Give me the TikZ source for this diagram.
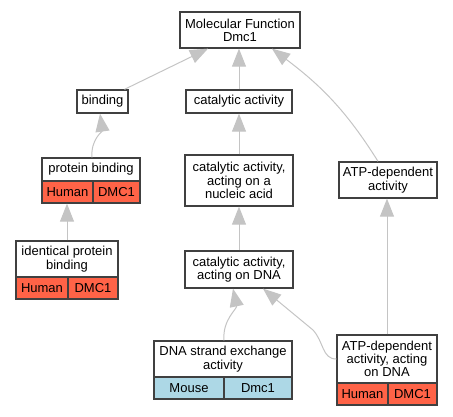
\documentclass[tikz,border=0pt]{standalone}
\usepackage{fontspec}
\setmainfont{Liberation Sans}
\usetikzlibrary{arrows.meta}
\definecolor{boxc}{RGB}{64,64,64}
\definecolor{edgec}{RGB}{196,196,196}
\definecolor{humanc}{RGB}{255,99,71}
\definecolor{mousec}{RGB}{173,216,230}
\tikzset{
  gbox/.style={draw=boxc, line width=1.3pt, fill=white, inner sep=0pt, align=center,
    font=\fontsize{13}{13.3}\selectfont},
  hcell/.style={gbox, fill=humanc},
  mcell/.style={gbox, fill=mousec},
  gedge/.style={draw=edgec, line width=1pt, -{Triangle[length=18pt,width=14pt]}}
}
\begin{document}
\begin{tikzpicture}[x=1pt,y=-1pt]
\useasboundingbox (0,0) rectangle (453,416);
\node[gbox, minimum width=120pt, minimum height=36pt] (mf) at (240,30) {Molecular Function\\Dmc1};
\node[gbox, minimum width=51pt, minimum height=23pt] (bind) at (102.5,101.5) {binding};
\node[gbox, minimum width=106pt, minimum height=23pt] (cat) at (239,101.5) {catalytic activity};
\node[gbox, minimum width=98pt, minimum height=23pt] (pb) at (91,169.5) {protein binding};
\node[hcell, minimum width=51pt, minimum height=22pt] (pbh) at (67.5,192) {Human};
\node[hcell, minimum width=47pt, minimum height=22pt] (pbd) at (116.5,192) {DMC1};
\node[gbox, minimum width=108pt, minimum height=51pt] (catna) at (239,180.5) {catalytic activity,\\acting on a\\nucleic acid};
\node[gbox, minimum width=98pt, minimum height=36pt] (atp) at (388,180) {ATP-dependent\\activity};
\node[gbox, minimum width=102pt, minimum height=36pt] (ipb) at (67,259) {identical protein\\binding};
\node[hcell, minimum width=52pt, minimum height=22pt] (ipbh) at (42,288) {Human};
\node[hcell, minimum width=50pt, minimum height=22pt] (ipbd) at (93,288) {DMC1};
\node[gbox, minimum width=108pt, minimum height=37pt] (catdna) at (239,269.5) {catalytic activity,\\acting on DNA};
\node[gbox, minimum width=138pt, minimum height=36pt] (dse) at (223,359) {DNA strand exchange\\activity};
\node[mcell, minimum width=70pt, minimum height=22pt] (dsem) at (189,388) {Mouse};
\node[mcell, minimum width=68pt, minimum height=22pt] (dsed) at (258,388) {Dmc1};
\node[gbox, minimum width=100pt, minimum height=48pt] (atpdna) at (387,359) {ATP-dependent\\activity, acting\\on DNA};
\node[hcell, minimum width=51pt, minimum height=22pt] (atpdnah) at (362.5,394) {Human};
\node[hcell, minimum width=49pt, minimum height=22pt] (atpdnad) at (412.5,394) {DMC1};
% connectors
\draw[gedge] ([xshift=22pt]bind.north) -- ([xshift=-32pt]mf.south);
\draw[gedge] (cat.north) -- (cat.north |- mf.south);
\draw[gedge] ([xshift=-10pt]atp.north) to[out=122,in=-37] ([xshift=32pt]mf.south);
\draw[gedge] ([xshift=1pt]pb.north) to[out=95,in=-82] ([xshift=-2.5pt]bind.south);
\draw[gedge] (catna.north) -- (cat.south);
\draw[gedge] (ipb.north) -- (ipb.north |- pbh.south);
\draw[gedge] (catdna.north) -- (catna.south);
\draw[gedge] (atpdna.north) -- (atpdna.north |- atp.south);
\draw[gedge] ([xshift=1pt]dse.north) to[out=95,in=-78] ([xshift=-6pt]catdna.south);
\draw[gedge] (atpdna.west) .. controls (322,359) and (324,342) .. (313,330) -- ([xshift=24pt]catdna.south);
\end{tikzpicture}
\end{document}
